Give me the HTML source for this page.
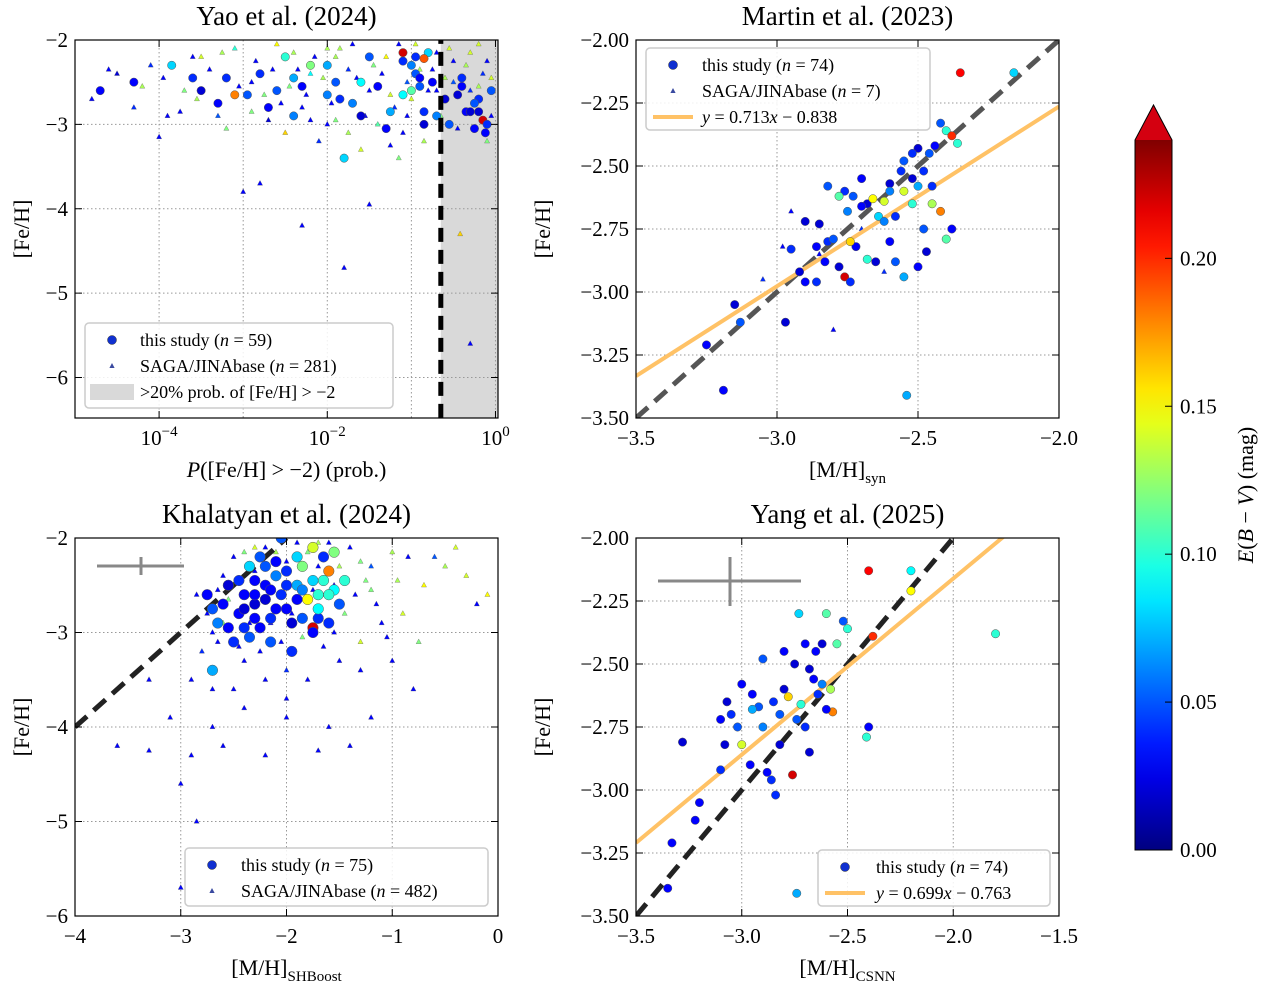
<!DOCTYPE html>
<html><head><meta charset="utf-8"><style>
body{margin:0;background:#fff}
text{font-family:"Liberation Serif",serif;fill:#000}
</style></head><body>
<svg id="s" width="1262" height="983" xmlns="http://www.w3.org/2000/svg"></svg>
<script>
// ---- data ----
const p1Study=[[-4.7,-2.6,.03],[-4.3,-2.5,.03],[-3.85,-2.3,.08],[-3.6,-2.45,.04],[-3.3,-2.75,.03],[-3.1,-2.65,.18],[-2.95,-2.65,.05],[-2.8,-2.4,.04],[-2.6,-2.6,.05],[-2.4,-2.45,.07],[-2.2,-2.3,.12],[-2.0,-2.65,.06],[-1.85,-2.7,.04],[-1.6,-2.5,.09],[-1.4,-2.55,.03],[-1.25,-2.85,.07],[-1.1,-2.25,.04],[-0.95,-2.4,.05],[-1.6,-2.9,.02],[-1.8,-3.4,.08],[-1.0,-2.6,.11],[-0.85,-2.85,.04],[-0.75,-2.5,.03],[-0.9,-2.55,.05],[-1.0,-2.3,.06],[-0.95,-2.2,.04],[-0.8,-2.15,.08],[-0.85,-2.22,.19],[-1.1,-2.15,.22],[-0.2,-2.7,.04],[-0.35,-2.85,.03],[-0.55,-3.0,.05],[-0.85,-3.0,.02],[-1.3,-3.05,.03],[-0.7,-2.9,.06],[-0.45,-2.65,.02],[-0.3,-2.85,.02],[-0.25,-3.05,.03],[-0.15,-2.95,.22],[-0.1,-3.0,.04],[-0.12,-3.1,.03],[-0.4,-2.55,.03],[-0.05,-2.6,.05],[-0.2,-2.85,.02],[-2.4,-2.9,.06],[-2.7,-2.8,.03],[-3.5,-2.6,.02],[-2.0,-2.3,.07],[-1.5,-2.2,.05],[-1.1,-2.65,.09],[-0.9,-2.45,.03],[-1.9,-2.5,.05],[-2.3,-2.55,.03],[-3.2,-2.45,.04],[-2.5,-2.2,.1],[-1.7,-2.75,.06],[-0.6,-2.7,.02],[-0.4,-2.45,.04],[-0.25,-2.75,.05]];
const p1Tri=[[-4.8,-2.7,.03],[-4.5,-2.4,.02],[-4.1,-2.3,.04],[-4.0,-3.15,.03],[-3.7,-2.6,.12],[-3.5,-2.2,.14],[-3.3,-2.9,.05],[-3.1,-2.1,.1],[-2.9,-2.5,.03],[-2.8,-3.7,.03],[-2.6,-2.05,.15],[-2.5,-3.1,.16],[-2.3,-2.8,.03],[-2.2,-2.4,.09],[-2.1,-3.2,.04],[-2.0,-2.1,.13],[-1.9,-2.95,.12],[-1.8,-4.7,.03],[-1.75,-2.35,.04],[-1.6,-3.3,.14],[-1.5,-2.6,.03],[-1.4,-3.0,.11],[-1.3,-2.2,.15],[-1.2,-2.8,.04],[-1.15,-3.4,.12],[-1.05,-2.5,.05],[-0.95,-2.05,.14],[-0.85,-3.2,.13],[-0.75,-2.35,.03],[-0.65,-2.9,.12],[-0.55,-2.1,.14],[-0.5,-2.5,.05],[-0.42,-4.3,.16],[-0.35,-2.3,.13],[-0.3,-5.6,.03],[-0.2,-2.05,.14],[-0.15,-2.4,.04],[-0.1,-3.2,.12],[-0.05,-2.9,.03],[-2.7,-2.95,.02],[-3.9,-2.9,.03],[-2.4,-2.15,.13],[-1.7,-2.05,.03],[-1.0,-2.7,.14],[-3.2,-3.05,.12],[-2.0,-3.0,.03],[-1.45,-2.3,.12],[-0.7,-2.6,.03],[-4.3,-2.8,.04],[-2.3,-4.2,.03],[-1.5,-3.95,.03],[-3.0,-3.8,.03],[-1.9,-2.2,.13],[-1.1,-3.1,.03],[-0.3,-2.6,.04],
[-4.6,-2.35,.03],[-4.2,-2.55,.13],[-3.95,-2.45,.03],[-3.75,-2.85,.03],[-3.55,-2.7,.13],[-3.4,-2.35,.03],[-3.25,-2.15,.13],[-3.05,-2.55,.03],[-2.85,-2.25,.03],[-2.75,-2.65,.12],[-2.65,-2.35,.03],[-2.55,-2.75,.03],[-2.45,-2.55,.12],[-2.35,-2.35,.03],[-2.25,-2.65,.03],[-2.15,-2.2,.03],[-2.05,-2.45,.13],[-1.95,-2.75,.03],[-1.85,-2.1,.13],[-1.65,-2.45,.03],[-1.55,-2.9,.03],[-1.35,-2.4,.03],[-1.25,-2.65,.14],[-1.15,-2.05,.03],[-1.05,-2.9,.03],[-0.9,-2.35,.13],[-0.8,-2.6,.03],[-0.7,-2.15,.03],[-0.6,-2.45,.13],[-0.5,-2.25,.03],[-0.45,-3.05,.03],[-0.3,-2.15,.14],[-0.2,-2.55,.13],[-0.1,-2.25,.03],[-0.05,-2.45,.14],[-3.6,-2.2,.03],[-2.9,-2.85,.12],[-2.2,-2.95,.03],[-1.75,-3.1,.13],[-1.25,-3.25,.03]];
const p2Study=[[-3.19,-3.39,.03],[-3.25,-3.21,.03],[-3.15,-3.05,.02],[-3.13,-3.12,.05],[-2.97,-3.12,.02],[-2.95,-2.83,.04],[-2.9,-2.72,.02],[-2.85,-2.73,.02],[-2.82,-2.58,.05],[-2.86,-2.82,.03],[-2.82,-2.8,.04],[-2.78,-2.9,.02],[-2.76,-2.94,.22],[-2.74,-2.96,.04],[-2.72,-2.82,.03],[-2.75,-2.68,.06],[-2.73,-2.62,.05],[-2.76,-2.6,.04],[-2.7,-2.55,.03],[-2.68,-2.65,.02],[-2.66,-2.63,.15],[-2.64,-2.7,.08],[-2.62,-2.72,.06],[-2.6,-2.8,.03],[-2.58,-2.88,.05],[-2.55,-2.94,.07],[-2.54,-3.41,.07],[-2.6,-2.57,.02],[-2.56,-2.52,.04],[-2.55,-2.48,.05],[-2.52,-2.55,.02],[-2.5,-2.43,.02],[-2.48,-2.52,.04],[-2.46,-2.45,.05],[-2.44,-2.42,.03],[-2.42,-2.33,.05],[-2.4,-2.36,.1],[-2.38,-2.38,.2],[-2.36,-2.41,.1],[-2.35,-2.13,.21],[-2.16,-2.13,.08],[-2.55,-2.6,.14],[-2.52,-2.65,.1],[-2.5,-2.58,.07],[-2.45,-2.58,.04],[-2.42,-2.68,.18],[-2.4,-2.79,.11],[-2.38,-2.75,.03],[-2.5,-2.9,.03],[-2.47,-2.84,.02],[-2.45,-2.65,.13],[-2.6,-2.6,.06],[-2.68,-2.87,.1],[-2.74,-2.8,.16],[-2.8,-2.79,.05],[-2.92,-2.92,.02],[-2.9,-2.96,.03],[-2.86,-2.96,.04],[-2.83,-2.88,.03],[-2.78,-2.62,.11],[-2.7,-2.66,.03],[-2.65,-2.88,.02],[-2.62,-2.64,.14],[-2.58,-2.7,.04],[-2.52,-2.45,.04],[-2.48,-2.75,.05]];
const p2Tri=[[-2.95,-2.68,.03],[-2.8,-3.15,.03],[-3.05,-2.95,.04],[-2.98,-2.82,.03],[-2.7,-2.75,.04],[-2.85,-2.85,.03],[-2.62,-2.92,.04]];
const p3Study=[[-2.25,-2.2,.05],[-2.35,-2.3,.08],[-2.45,-2.45,.04],[-2.4,-2.6,.03],[-2.3,-2.7,.02],[-2.2,-2.5,.03],[-2.1,-2.4,.06],[-2.05,-2.6,.04],[-2.0,-2.75,.03],[-1.95,-2.9,.02],[-1.9,-2.5,.07],[-1.85,-2.3,.12],[-1.8,-2.65,.15],[-1.75,-2.45,.08],[-1.7,-2.6,.1],[-1.65,-2.2,.04],[-1.6,-2.35,.18],[-1.55,-2.55,.09],[-1.5,-2.7,.05],[-1.7,-2.85,.04],[-1.75,-2.95,.22],[-1.75,-3.0,.03],[-2.15,-2.85,.04],[-2.25,-2.95,.03],[-2.35,-3.05,.05],[-2.45,-2.8,.03],[-2.5,-3.1,.04],[-2.6,-2.7,.03],[-2.65,-2.9,.06],[-2.7,-3.4,.07],[-2.55,-2.5,.02],[-2.2,-2.3,.05],[-2.1,-2.25,.03],[-2.0,-2.35,.04],[-1.9,-2.2,.08],[-1.65,-2.45,.1],[-1.6,-2.9,.04],[-1.85,-2.85,.05],[-2.3,-2.45,.03],[-2.4,-2.75,.02],[-1.95,-3.2,.04],[-2.15,-3.1,.05],[-2.7,-2.75,.05],[-2.75,-2.6,.03],[-1.75,-2.1,.14],[-1.55,-2.15,.12],[-2.05,-2.0,.05],[-1.45,-2.45,.1],[-2.3,-2.6,.03],[-2.2,-2.65,.02],[-2.1,-2.75,.03],[-2.0,-2.5,.04],[-1.9,-2.65,.03],[-2.3,-2.85,.03],[-2.55,-2.95,.03],[-2.4,-2.95,.04],[-2.15,-2.55,.03],[-1.85,-2.55,.06],[-1.7,-2.75,.09],[-1.6,-2.6,.1]];
const p3Tri=[[-3.6,-4.2,.03],[-3.3,-4.25,.03],[-3.0,-4.6,.03],[-2.85,-5.0,.03],[-3.0,-5.7,.03],[-2.7,-4.0,.03],[-2.6,-4.2,.03],[-2.2,-4.3,.03],[-1.6,-4.0,.03],[-1.4,-4.2,.03],[-2.0,-3.7,.03],[-1.0,-3.3,.03],[-0.9,-2.8,.14],[-0.7,-2.5,.15],[-0.5,-2.3,.13],[-0.2,-2.7,.03],[-0.1,-2.6,.15],[-0.3,-2.4,.14],[-0.6,-2.2,.05],[-1.0,-2.15,.13],[-1.2,-2.55,.12],[-1.1,-2.9,.03],[-1.3,-3.1,.14],[-1.5,-3.3,.03],[-2.4,-3.3,.03],[-2.7,-3.0,.03],[-2.8,-3.2,.04],[-2.6,-2.9,.12],[-2.5,-3.6,.03],[-2.9,-3.5,.03],[-3.1,-3.9,.03],[-1.8,-3.5,.03],[-0.8,-3.6,.03],[-1.2,-2.3,.05],[-2.3,-2.1,.14],[-0.4,-2.1,.14],[-1.7,-2.05,.13],[-2.0,-3.4,.04],[-2.2,-3.5,.03],[-0.75,-3.1,.12],
[-2.6,-2.4,.03],[-2.5,-2.2,.03],[-2.4,-2.15,.12],[-2.3,-2.35,.03],[-2.2,-2.1,.03],[-2.1,-2.15,.13],[-2.0,-2.25,.03],[-1.9,-2.05,.03],[-1.8,-2.15,.12],[-1.7,-2.3,.03],[-1.6,-2.05,.03],[-1.5,-2.3,.13],[-1.4,-2.1,.03],[-1.3,-2.25,.12],[-1.35,-2.6,.03],[-1.45,-2.8,.12],[-1.55,-3.0,.03],[-1.65,-3.15,.03],[-1.85,-3.05,.12],[-2.05,-3.1,.03],[-2.25,-3.2,.03],[-2.45,-3.15,.03],[-2.65,-3.1,.03],[-2.75,-2.8,.03],[-2.85,-2.6,.03],[-2.65,-2.55,.03],[-2.55,-2.65,.12],[-2.35,-2.9,.03],[-2.15,-2.9,.03],[-1.95,-2.8,.03],[-1.75,-2.55,.03],[-1.55,-2.5,.03],[-1.25,-2.45,.12],[-1.15,-2.7,.03],[-0.95,-2.45,.13],[-0.85,-2.2,.03],[-1.05,-3.05,.03],[-2.0,-3.9,.03],[-2.4,-3.8,.03],[-1.3,-3.4,.03],[-2.7,-3.6,.03],[-3.3,-3.5,.03],[-2.9,-4.3,.03],[-1.7,-4.25,.03],[-1.2,-3.9,.03]];
const p4Study=[[-3.35,-3.39,.03],[-3.33,-3.21,.03],[-3.22,-3.12,.03],[-3.2,-3.05,.03],[-3.28,-2.81,.02],[-3.1,-2.92,.04],[-3.08,-2.82,.02],[-3.1,-2.72,.03],[-3.07,-2.65,.02],[-3.02,-2.75,.05],[-3.0,-2.82,.14],[-2.96,-2.9,.03],[-2.95,-2.62,.03],[-2.92,-2.67,.05],[-2.9,-2.75,.06],[-2.88,-2.93,.03],[-2.86,-2.96,.04],[-2.84,-3.02,.04],[-2.82,-2.82,.02],[-2.8,-2.6,.02],[-2.78,-2.63,.16],[-2.76,-2.94,.22],[-2.74,-2.72,.05],[-2.72,-2.66,.1],[-2.74,-3.41,.07],[-2.73,-2.3,.08],[-2.7,-2.42,.03],[-2.68,-2.52,.02],[-2.66,-2.56,.03],[-2.64,-2.62,.04],[-2.62,-2.58,.06],[-2.6,-2.3,.11],[-2.58,-2.6,.13],[-2.57,-2.69,.18],[-2.55,-2.42,.11],[-2.52,-2.33,.05],[-2.5,-2.36,.1],[-2.4,-2.13,.21],[-2.38,-2.39,.2],[-2.2,-2.13,.09],[-2.2,-2.21,.15],[-2.4,-2.75,.03],[-2.41,-2.79,.1],[-1.8,-2.38,.1],[-2.8,-2.45,.03],[-2.65,-2.45,.03],[-2.9,-2.48,.05],[-3.0,-2.58,.03],[-2.7,-2.75,.04],[-2.6,-2.68,.03],[-2.85,-2.65,.04],[-2.68,-2.85,.02],[-3.05,-2.7,.04],[-2.95,-2.68,.07],[-2.75,-2.5,.02],[-2.62,-2.42,.02],[-2.82,-2.7,.05]];
const tick1X=[-4,-2,0], tick1Y=[-2,-3,-4,-5,-6];
const tick2X=[-3.5,-3.0,-2.5,-2.0], tick2Y=[-2.0,-2.25,-2.5,-2.75,-3.0,-3.25,-3.5];
const tick3X=[-4,-3,-2,-1,0], tick3Y=[-2,-3,-4,-5,-6];
const tick4X=[-3.5,-3.0,-2.5,-2.0,-1.5], tick4Y=tick2Y;
const cbTicks=[0,0.05,0.10,0.15,0.20];
const fit2=[0.713,-0.838], fit4=[0.699,-0.763];

// ---- helpers ----
const NS="http://www.w3.org/2000/svg", S=document.getElementById('s');
function el(t,a,p){const e=document.createElementNS(NS,t);for(const k in a)e.setAttribute(k,a[k]);(p||S).appendChild(e);return e;}
function jet(v){let t=Math.max(0,Math.min(1,v/0.24));const c=x=>Math.round(255*Math.max(0,Math.min(1,1.5-Math.abs(4*t-x))));return `rgb(${c(3)},${c(2)},${c(1)})`;}
function fmt(v,d){return (v<0?'−':'')+Math.abs(v).toFixed(d);}
function panel(o){
  const g=el('g',{});
  
  
  const X=v=>o.x0+(v-o.xmin)/(o.xmax-o.xmin)*(o.x1-o.x0);
  const Y=v=>o.y0+(o.ymax-v)/(o.ymax-o.ymin)*(o.y1-o.y0);
  const clip='c'+o.name;
  const cp=el('clipPath',{id:clip},g);el('rect',{x:o.x0,y:o.y0,width:o.x1-o.x0,height:o.y1-o.y0},cp);
  const pg=el('g',{'clip-path':`url(#${clip})`},g);
  if(o.shade){const r=el('rect',{x:X(o.shade),y:o.y0,width:o.x1-X(o.shade),height:o.y1-o.y0,fill:'#d9d9d9'},pg);}
  o.gx.forEach(v=>el('line',{x1:X(v),x2:X(v),y1:o.y0,y2:o.y1,stroke:'#999','stroke-dasharray':'1.5,2.5','stroke-width':1},pg));
  o.ty.forEach(v=>el('line',{x1:o.x0,x2:o.x1,y1:Y(v),y2:Y(v),stroke:'#999','stroke-dasharray':'1.5,2.5','stroke-width':1},pg));
  (o.tri||[]).forEach(d=>{const x=X(d[0]),y=Y(d[1]);const t=el('path',{d:`M${x},${y-3}L${x+2.6},${y+1.8}L${x-2.6},${y+1.8}Z`,fill:jet(d[2]),stroke:'#555','stroke-width':0.3},pg);});
  (o.lines||[]).forEach(l=>{const e=el('line',{x1:X(l.xa),y1:Y(l.ya),x2:X(l.xb),y2:Y(l.yb),stroke:l.c,'stroke-width':l.w,'stroke-dasharray':l.dash||''},pg);});
  (o.pts||[]).forEach(d=>{const c=el('circle',{cx:X(d[0]),cy:Y(d[1]),r:o.r||4.2,fill:jet(d[2]),stroke:'#555','stroke-width':0.5},pg);});
  (o.lines2||[]).forEach(l=>{const e=el('line',{x1:X(l.xa),y1:Y(l.ya),x2:X(l.xb),y2:Y(l.yb),stroke:l.c,'stroke-width':l.w,'stroke-dasharray':l.dash||''},pg);});
  if(o.err){const e=o.err;const eg=el('g',{stroke:'#888','stroke-width':3},g);el('line',{x1:e[0],x2:e[1],y1:e[4],y2:e[4]},eg);el('line',{x1:e[5],x2:e[5],y1:e[2],y2:e[3]},eg);}
  el('rect',{x:o.x0,y:o.y0,width:o.x1-o.x0,height:o.y1-o.y0,fill:'none',stroke:'#000','stroke-width':1.2},g);
  o.tx.forEach(v=>{const x=X(v);el('line',{x1:x,x2:x,y1:o.y1,y2:o.y1-7,stroke:'#000'},g);el('line',{x1:x,x2:x,y1:o.y0,y2:o.y0+7,stroke:'#000'},g);
    const t=el('text',{x:x,y:o.y1+27,'text-anchor':'middle','font-size':21},g);
    if(o.log){t.textContent='10';el('tspan',{dy:-9,'font-size':15},t).textContent=(v<0?'−':'')+Math.abs(v);} else t.textContent=fmt(v,o.xd);
    });
  o.ty.forEach(v=>{const y=Y(v);el('line',{x1:o.x0,x2:o.x0+7,y1:y,y2:y,stroke:'#000'},g);el('line',{x1:o.x1,x2:o.x1-7,y1:y,y2:y,stroke:'#000'},g);
    const t=el('text',{x:o.x0-7,y:y+7,'text-anchor':'end','font-size':21},g);t.textContent=fmt(v,o.yd);});
  const ti=el('text',{x:(o.x0+o.x1)/2,y:o.y0-15,'text-anchor':'middle','font-size':27},g);ti.textContent=o.title;
  const yl=el('text',{x:0,y:0,transform:`translate(${o.x0-(o.yd?86:46)},${(o.y0+o.y1)/2}) rotate(-90)`,'text-anchor':'middle','font-size':22},g);yl.textContent='[Fe/H]';
  const xl=el('text',{x:(o.x0+o.x1)/2,y:o.y1+59,'text-anchor':'middle','font-size':22},g);xl.innerHTML=o.xlab;
  const L=o.leg;const lg=el('g',{},g);
  el('rect',{x:L.x,y:L.y,width:L.w,height:L.h,rx:4,fill:'#fff','fill-opacity':0.85,stroke:'#ccc','stroke-width':1.5},lg);
  L.items.forEach((it,i)=>{const cy=L.y+17+i*26;const mx=L.x+27;
    if(it.k=='c')el('circle',{cx:mx,cy:cy,r:4.5,fill:'#1030d0',stroke:'#333','stroke-width':.5},lg);
    else if(it.k=='t')el('path',{d:`M${mx},${cy-3}L${mx+2.6},${cy+2}L${mx-2.6},${cy+2}Z`,fill:'#3a4aa0'},lg);
    else if(it.k=='l')el('line',{x1:mx-20,x2:mx+20,y1:cy,y2:cy,stroke:'#ffc266','stroke-width':4},lg);
    else el('rect',{x:mx-22,y:cy-8,width:44,height:16,fill:'#d9d9d9'},lg);
    const t=el('text',{x:L.x+L.tx,y:cy+6,'font-size':18},lg);t.innerHTML=it.t;});
}
panel({name:'yao-panel',title:'Yao et al. (2024)',x0:75,x1:498,y0:40,y1:418,xmin:-5,xmax:0.03,ymin:-6.48,ymax:-2,log:true,tx:tick1X,ty:tick1Y,gx:[-4,-3,-2,-1,0],yd:0,shade:-0.65,
 pts:p1Study,tri:p1Tri,r:4.2,
 lines2:[{xa:-0.65,xb:-0.65,ya:-7,yb:-1,c:'#000',w:5,dash:'14,8',name:'threshold-line'}],
 xlab:'<tspan font-style="italic">P</tspan>([Fe/H] &gt; −2) (prob.)',
 leg:{x:85,y:323,w:308,h:85,tx:55,items:[{k:'c',t:'this study (<tspan font-style="italic">n</tspan> = 59)'},{k:'t',t:'SAGA/JINAbase (<tspan font-style="italic">n</tspan> = 281)'},{k:'r',t:'&gt;20% prob. of [Fe/H] &gt; −2'}]}});
panel({name:'martin-panel',title:'Martin et al. (2023)',x0:636,x1:1059,y0:40,y1:418,xmin:-3.5,xmax:-2.0,ymin:-3.5,ymax:-2.0,tx:tick2X,ty:tick2Y,gx:tick2X,xd:1,yd:2,
 pts:p2Study,tri:p2Tri,r:4.2,
 lines:[{xa:-3.5,ya:-3.5,xb:-2.0,yb:-2.0,c:'#555',w:5,dash:'16,9',name:'one-to-one-line'},{xa:-3.5,ya:-3.5*fit2[0]+fit2[1],xb:-2.0,yb:-2.0*fit2[0]+fit2[1],c:'#ffc266',w:4,name:'fit-line'}],
 xlab:'[M/H]<tspan dy="6" font-size="15">syn</tspan>',
 leg:{x:646,y:48,w:284,h:82,tx:56,items:[{k:'c',t:'this study (<tspan font-style="italic">n</tspan> = 74)'},{k:'t',t:'SAGA/JINAbase (<tspan font-style="italic">n</tspan> = 7)'},{k:'l',t:'<tspan font-style="italic">y</tspan> = 0.713<tspan font-style="italic">x</tspan> − 0.838'}]}});
panel({name:'khalatyan-panel',title:'Khalatyan et al. (2024)',x0:75,x1:498,y0:538,y1:916,xmin:-4,xmax:0,ymin:-6,ymax:-2,tx:tick3X,ty:tick3Y,gx:tick3X,xd:0,yd:0,
 pts:p3Study,tri:p3Tri,r:5.3,err:[97,184,557,575,566,141],
 lines:[{xa:-4,ya:-4,xb:-2,yb:-2,c:'#222',w:5,dash:'16,9',name:'one-to-one-line'}],
 xlab:'[M/H]<tspan dy="6" font-size="15">SHBoost</tspan>',
 leg:{x:185,y:848,w:303,h:58,tx:56,items:[{k:'c',t:'this study (<tspan font-style="italic">n</tspan> = 75)'},{k:'t',t:'SAGA/JINAbase (<tspan font-style="italic">n</tspan> = 482)'}]}});
panel({name:'yang-panel',title:'Yang et al. (2025)',x0:636,x1:1059,y0:538,y1:916,xmin:-3.5,xmax:-1.5,ymin:-3.5,ymax:-2.0,tx:tick4X,ty:tick4Y,gx:tick4X,xd:1,yd:2,
 pts:p4Study,r:4.2,err:[658,801,557,606,581,730],
 lines:[{xa:-3.5,ya:-3.5,xb:-2.0,yb:-2.0,c:'#222',w:5,dash:'16,9',name:'one-to-one-line'},{xa:-3.5,ya:-3.5*fit4[0]+fit4[1],xb:-1.5,yb:-1.5*fit4[0]+fit4[1],c:'#ffc266',w:4,name:'fit-line'}],
 xlab:'[M/H]<tspan dy="6" font-size="15">CSNN</tspan>',
 leg:{x:818,y:850,w:232,h:56,tx:58,items:[{k:'c',t:'this study (<tspan font-style="italic">n</tspan> = 74)'},{k:'l',t:'<tspan font-style="italic">y</tspan> = 0.699<tspan font-style="italic">x</tspan> − 0.763'}]}});
// colorbar
const cb=el('g',{});
const defs=el('defs',{},cb);const gr=el('linearGradient',{id:'jg',x1:0,y1:1,x2:0,y2:0},defs);
for(let i=0;i<=20;i++)el('stop',{offset:i/20,'stop-color':jet(0.24*i/20)},gr);
el('rect',{x:1135,y:140,width:37,height:710,fill:'url(#jg)'},cb);
el('path',{d:'M1135,140L1153.5,105L1172,140Z',fill:'#d40010'},cb);
el('path',{d:'M1135,850L1135,140L1153.5,105L1172,140L1172,850Z',fill:'none',stroke:'#000','stroke-width':1},cb);
cbTicks.forEach(v=>{const y=850-v/0.24*710;el('line',{x1:1165,x2:1172,y1:y,y2:y,stroke:'#000'},cb);const t=el('text',{x:1180,y:y+7,'font-size':21},cb);t.textContent=v.toFixed(2);});
const cl=el('text',{transform:'translate(1253,495) rotate(-90)','text-anchor':'middle','font-size':22},cb);cl.innerHTML='<tspan font-style="italic">E</tspan>(<tspan font-style="italic">B</tspan> − <tspan font-style="italic">V</tspan>) (mag)';

</script>
</body></html>
